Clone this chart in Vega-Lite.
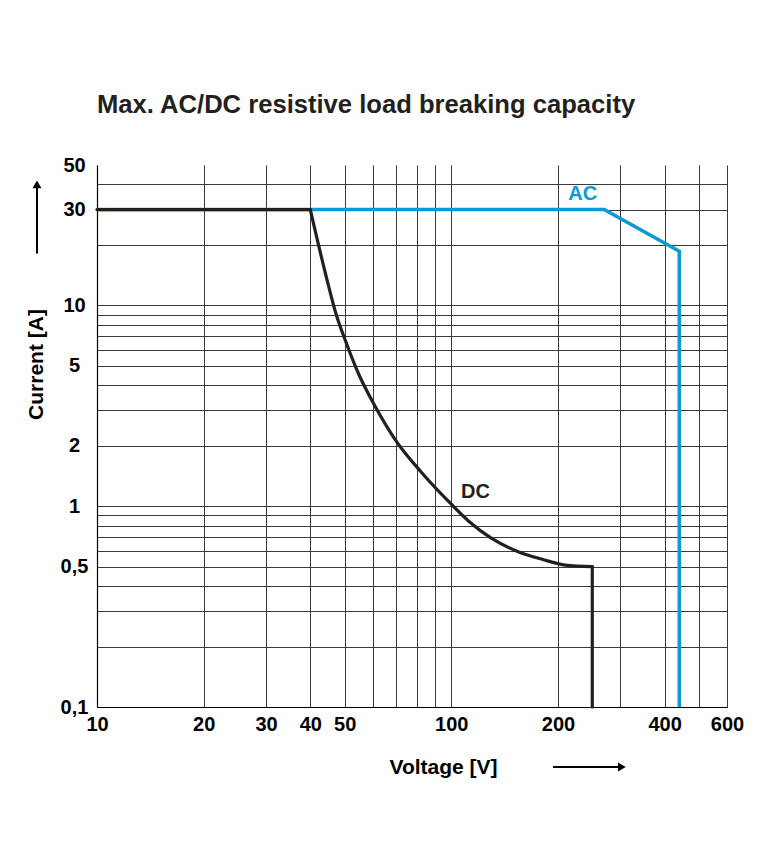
{
  "$schema": "https://vega.github.io/schema/vega-lite/v6.json",
  "width": 630,
  "height": 542,
  "autosize": {"type": "none"},
  "padding": {"left": 97, "top": 165, "right": 55, "bottom": 134},
  "background": "white",
  "title": {
    "text": "Max. AC/DC resistive load breaking capacity",
    "anchor": "start",
    "frame": "group",
    "font": "Liberation Sans",
    "fontSize": 25.6,
    "fontWeight": "bold",
    "color": "#231f20",
    "offset": 36
  },
  "config": {
    "view": {"stroke": null},
    "axis": {
      "labelFont": "Liberation Sans",
      "labelFontSize": 20,
      "labelFontWeight": "bold",
      "labelColor": "#000000",
      "titleFont": "Liberation Sans",
      "titleFontSize": 21,
      "titleFontWeight": "bold",
      "titleColor": "#000000",
      "ticks": false,
      "tickSize": 0,
      "labelFlush": false,
      "labelOverlap": false,
      "grid": true,
      "gridColor": "#3a3a3a",
      "gridWidth": 1,
      "domainColor": "#000000",
      "domainWidth": 1.2
    }
  },
  "datasets": {
    "curves": [
      {"series": "AC", "part": "ac", "idx": 1, "voltage": 10, "current": 30},
      {"series": "AC", "part": "ac", "idx": 2, "voltage": 270, "current": 30},
      {"series": "AC", "part": "ac", "idx": 3, "voltage": 440, "current": 18.6},
      {"series": "AC", "part": "ac", "idx": 4, "voltage": 440, "current": 0.1},
      {"series": "DC", "part": "flat", "idx": 1, "voltage": 10, "current": 30},
      {"series": "DC", "part": "flat", "idx": 2, "voltage": 40, "current": 30},
      {"series": "DC", "part": "curve", "idx": 3, "voltage": 40, "current": 30},
      {"series": "DC", "part": "curve", "idx": 4, "voltage": 44.5, "current": 13.6},
      {"series": "DC", "part": "curve", "idx": 5, "voltage": 47.5, "current": 8.82},
      {"series": "DC", "part": "curve", "idx": 6, "voltage": 50.2, "current": 6.7},
      {"series": "DC", "part": "curve", "idx": 7, "voltage": 54.8, "current": 4.54},
      {"series": "DC", "part": "curve", "idx": 8, "voltage": 60.5, "current": 3.22},
      {"series": "DC", "part": "curve", "idx": 9, "voltage": 69.9, "current": 2.11},
      {"series": "DC", "part": "curve", "idx": 10, "voltage": 82.3, "current": 1.476},
      {"series": "DC", "part": "curve", "idx": 11, "voltage": 100, "current": 1.023},
      {"series": "DC", "part": "curve", "idx": 12, "voltage": 112, "current": 0.842},
      {"series": "DC", "part": "curve", "idx": 13, "voltage": 129.7, "current": 0.693},
      {"series": "DC", "part": "curve", "idx": 14, "voltage": 153.2, "current": 0.597},
      {"series": "DC", "part": "curve", "idx": 15, "voltage": 181, "current": 0.543},
      {"series": "DC", "part": "curve", "idx": 16, "voltage": 209.8, "current": 0.509},
      {"series": "DC", "part": "curve", "idx": 17, "voltage": 250, "current": 0.5},
      {"series": "DC", "part": "drop", "idx": 18, "voltage": 250, "current": 0.5},
      {"series": "DC", "part": "drop", "idx": 19, "voltage": 250, "current": 0.1}
    ],
    "labels": [
      {"series": "AC", "voltage": 235, "current": 36},
      {"series": "DC", "voltage": 117, "current": 1.17}
    ],
    "arrows": [
      {"dir": "up", "voltage": 6.77, "current": 18.1, "voltage2": 6.77, "current2": 40},
      {"dir": "right", "voltage": 193.6, "current": 0.0503, "voltage2": 303, "current2": 0.0503}
    ],
    "arrowheads": [
      {"dir": "up", "voltage": 6.77, "current": 40},
      {"dir": "right", "voltage": 303, "current": 0.0503}
    ]
  },
  "encoding": {
    "x": {
      "field": "voltage", "type": "quantitative",
      "scale": {"type": "log", "domain": [10, 600]},
      "axis": {
        "title": "Voltage [V]",
        "values": [10, 20, 30, 40, 50, 60, 70, 80, 90, 100, 200, 300, 400, 500, 600],
        "labelExpr": "indexof([10,20,30,40,50,100,200,400,600], datum.value) >= 0 ? '' + datum.value : ''",
        "labelPadding": 7,
        "labelAlign": "center",
        "labelBaseline": "top",
        "titleX": 346,
        "titleY": 60,
        "titleAlign": "center",
        "titleBaseline": "middle"
      }
    },
    "y": {
      "field": "current", "type": "quantitative",
      "scale": {"type": "log", "domain": [0.1, 50]},
      "axis": {
        "title": "Current [A]",
        "values": [0.1, 0.2, 0.3, 0.4, 0.5, 0.6, 0.7, 0.8, 0.9, 1, 2, 3, 4, 5, 6, 7, 8, 9, 10, 20, 30, 40, 50],
        "labelExpr": "indexof([0.1,0.5,1,2,5,10,30,50], datum.value) >= 0 ? replace('' + datum.value, '.', ',') : ''",
        "gridOpacity": {"condition": {"test": "datum.value == 50", "value": 0}, "value": 1},
        "labelPadding": 23,
        "labelAlign": "center",
        "labelBaseline": "middle",
        "titleX": -61,
        "titleY": 199,
        "titleAngle": -90,
        "titleAlign": "center",
        "titleBaseline": "middle"
      }
    }
  },
  "layer": [
    {
      "data": {"name": "curves"},
      "transform": [{"filter": "datum.series == 'AC'"}],
      "mark": {"type": "line", "strokeWidth": 3.5, "clip": false},
      "encoding": {
        "order": {"field": "idx", "type": "quantitative"},
        "color": {
          "field": "series", "type": "nominal",
          "scale": {"domain": ["AC", "DC"], "range": ["#0a9ad8", "#231f20"]},
          "legend": null
        }
      }
    },
    {
      "data": {"name": "curves"},
      "transform": [{"filter": "datum.series == 'DC'"}],
      "mark": {"type": "line", "strokeWidth": 3.2, "interpolate": "monotone", "strokeCap": "round", "clip": false},
      "encoding": {
        "order": {"field": "idx", "type": "quantitative"},
        "detail": {"field": "part", "type": "nominal"},
        "color": {"field": "series", "type": "nominal", "legend": null}
      }
    },
    {
      "data": {"name": "labels"},
      "mark": {"type": "text", "font": "Liberation Sans", "fontSize": 20, "fontWeight": "bold", "align": "center", "baseline": "middle"},
      "encoding": {
        "text": {"field": "series"},
        "color": {"field": "series", "type": "nominal", "legend": null}
      }
    },
    {
      "data": {"name": "arrows"},
      "mark": {"type": "rule", "color": "#000000", "strokeWidth": 2, "clip": false},
      "encoding": {
        "x2": {"field": "voltage2"},
        "y2": {"field": "current2"}
      }
    },
    {
      "data": {"name": "arrowheads"},
      "mark": {"type": "point", "filled": true, "color": "#000000", "opacity": 1, "size": 80, "clip": false},
      "encoding": {
        "shape": {
          "field": "dir", "type": "nominal",
          "scale": {"domain": ["up", "right"], "range": ["triangle-up", "triangle-right"]},
          "legend": null
        }
      }
    }
  ]
}
